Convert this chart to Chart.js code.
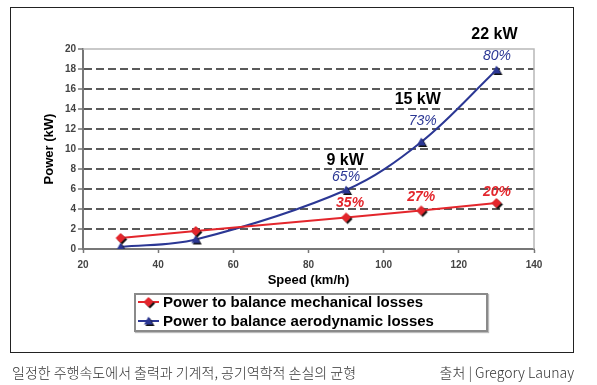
<!DOCTYPE html>
<html>
<head>
<meta charset="utf-8">
<script src="https://cdn.jsdelivr.net/npm/chart.js@4.4.0/dist/chart.umd.min.js"></script>
<style>
  body { margin: 0; width: 597px; height: 385px; background: #fff; position: relative; overflow: hidden; font-family: "Liberation Sans", Arial, sans-serif; }
  #frame { position: absolute; left: 10px; top: 7px; width: 562px; height: 344px; border: 1.5px solid #222; }
  #chart { position: absolute; left: 0; top: 0; }
  #legend { position: absolute; left: 134px; top: 293px; width: 350px; height: 35px; border: 2px solid #8a8a8a; box-shadow: 1px 1px 1px #bbb; background: #fff; }
  #legend .row { height: 19px; line-height: 19px; font: bold 15px "Liberation Sans", Arial, sans-serif; color: #000; white-space: nowrap; }
  #legend .row:first-child { margin-top: -2px; }
  #legend canvas { vertical-align: middle; margin: -3px 4px 0 2px; }
  .caption { position: absolute; top: 362px; height: 18px; line-height: 18px; font: 300 14px "Noto Sans CJK KR", sans-serif; color: #333; white-space: nowrap; }
</style>
</head>
<body>
<div id="frame"></div>
<canvas id="chart" width="597" height="385"></canvas>
<div id="legend"></div>
<div class="caption" style="left:12px">일정한 주행속도에서 출력과 기계적, 공기역학적 손실의 균형</div>
<div class="caption" style="right:23px">출처 | Gregory Launay</div>
<script>
// data
const speeds = [30, 50, 90, 110, 130];
const mechanicalLoss = [1.1, 1.8, 3.15, 3.85, 4.6];
const aeroLoss = [0.2, 0.95, 5.9, 10.7, 17.9];
const aeroKwLabels = ["", "", "9 kW", "15 kW", "22 kW"];
const aeroPctLabels = ["", "", "65%", "73%", "80%"];
const mechPctLabels = ["", "", "35%", "27%", "20%"];
const seriesNames = ["Power to balance mechanical losses", "Power to balance aerodynamic losses"];

const RED = "#e3262c";
const BLUE = "#2b3794";

// marker with a small black drop shadow
function makeMarker(shape, color) {
  const c = document.createElement("canvas");
  c.width = 16; c.height = 16;
  const g = c.getContext("2d");
  const path = (d) => {
    g.beginPath();
    if (shape === "diamond") {
      g.moveTo(8 + d, 3 + d); g.lineTo(13 + d, 8 + d); g.lineTo(8 + d, 13 + d); g.lineTo(3 + d, 8 + d);
    } else {
      g.moveTo(8 + d, 3.5 + d); g.lineTo(12.5 + d, 11.5 + d); g.lineTo(3.5 + d, 11.5 + d);
    }
    g.closePath();
  };
  g.fillStyle = "#111"; path(1.5); g.fill();
  g.fillStyle = color; path(0); g.fill();
  return c;
}
const redMarker = makeMarker("diamond", RED);
const blueMarker = makeMarker("triangle", BLUE);

const plotBorder = {
  id: "plotBorder",
  beforeDatasetsDraw(chart) {
    const { ctx, chartArea: a } = chart;
    ctx.save();
    ctx.strokeStyle = "#b8b8b8";
    ctx.lineWidth = 1.5;
    ctx.beginPath();
    ctx.moveTo(a.left, a.top);
    ctx.lineTo(a.right, a.top);
    ctx.lineTo(a.right, a.bottom);
    ctx.stroke();
    ctx.restore();
  }
};

const pointLabels = {
  id: "pointLabels",
  afterDatasetsDraw(chart) {
    const { ctx, scales: { x, y } } = chart;
    const kwDx = [0, 0, -1, -3.5, -2], kwDy = [0, 0, -29, -42, -35];
    const apDx = [0, 0, 0, 1.5, 0.5], apDy = [0, 0, -13, -21, -14];
    const mpDx = [0, 0, 4, 0, 0.5], mpDy = [0, 0, -14, -13, -11];
    ctx.save();
    ctx.textAlign = "center";
    ctx.textBaseline = "middle";
    speeds.forEach((s, i) => {
      const px = x.getPixelForValue(s);
      if (aeroKwLabels[i]) {
        ctx.font = "bold 16px 'Liberation Sans', Arial";
        ctx.fillStyle = "#000";
        ctx.fillText(aeroKwLabels[i], px + kwDx[i], y.getPixelForValue(aeroLoss[i]) + kwDy[i]);
      }
      if (aeroPctLabels[i]) {
        ctx.font = "italic 14px 'Liberation Sans', Arial";
        ctx.fillStyle = BLUE;
        ctx.fillText(aeroPctLabels[i], px + apDx[i], y.getPixelForValue(aeroLoss[i]) + apDy[i]);
      }
      if (mechPctLabels[i]) {
        ctx.font = "italic bold 14px 'Liberation Sans', Arial";
        ctx.fillStyle = RED;
        ctx.fillText(mechPctLabels[i], px + mpDx[i], y.getPixelForValue(mechanicalLoss[i]) + mpDy[i]);
      }
    });
    ctx.restore();
  }
};

Chart.defaults.font.family = "'Liberation Sans', Arial, sans-serif";

const chart = new Chart(document.getElementById("chart"), {
  type: "line",
  data: {
    datasets: [
      {
        label: seriesNames[0],
        data: speeds.map((s, i) => ({ x: s, y: mechanicalLoss[i] })),
        borderColor: RED,
        borderWidth: 2,
        pointStyle: redMarker,
        tension: 0.3,
        fill: false
      },
      {
        label: seriesNames[1],
        data: speeds.map((s, i) => ({ x: s, y: aeroLoss[i] })),
        borderColor: BLUE,
        borderWidth: 2,
        pointStyle: blueMarker,
        tension: 0.35,
        fill: false
      }
    ]
  },
  options: {
    responsive: false,
    animation: false,
    layout: { padding: { left: 0, top: 49, right: 63, bottom: 97 } },
    plugins: { legend: { display: false }, tooltip: { enabled: false } },
    scales: {
      x: {
        type: "linear",
        min: 20,
        max: 140,
        afterFit: (s) => { s.height = 39; },
        ticks: { stepSize: 20, padding: 6, color: "#444", font: { size: 10, weight: "bold" } },
        grid: { drawOnChartArea: false, tickLength: 4, tickColor: "#777", tickWidth: 1.5 },
        border: { color: "#777", width: 2 },
        title: { display: true, text: "Speed (km/h)", color: "#000", font: { size: 13, weight: "bold" }, padding: 0 }
      },
      y: {
        min: 0,
        max: 20,
        afterFit: (s) => { s.width = 83; },
        ticks: { stepSize: 2, padding: 2, color: "#444", font: { size: 10, weight: "bold" } },
        grid: {
          color: (c) => (c.tick && (c.tick.value === 0 || c.tick.value === 20)) ? "rgba(0,0,0,0)" : "#5a5a5a",
          lineWidth: 2,
          tickLength: 5,
          tickColor: "#777",
          tickWidth: 1.5,
          tickBorderDash: []
        },
        border: { color: "#777", width: 2, dash: [8, 4] },
        title: { display: true, text: "Power (kW)", color: "#000", font: { size: 13, weight: "bold" }, padding: { top: 42, bottom: 0 } }
      }
    }
  },
  plugins: [plotBorder, pointLabels]
});

// legend box built from the datasets
const legend = document.getElementById("legend");
chart.data.datasets.forEach((ds) => {
  const row = document.createElement("div");
  row.className = "row";
  const sym = document.createElement("canvas");
  sym.width = 21; sym.height = 14;
  const g = sym.getContext("2d");
  g.strokeStyle = ds.borderColor;
  g.lineWidth = 2;
  g.beginPath(); g.moveTo(0, 7); g.lineTo(21, 7); g.stroke();
  g.drawImage(ds.pointStyle, 10.5 - 8, 7 - 8);
  row.appendChild(sym);
  row.appendChild(document.createTextNode(ds.label));
  legend.appendChild(row);
});
</script>
</body>
</html>
